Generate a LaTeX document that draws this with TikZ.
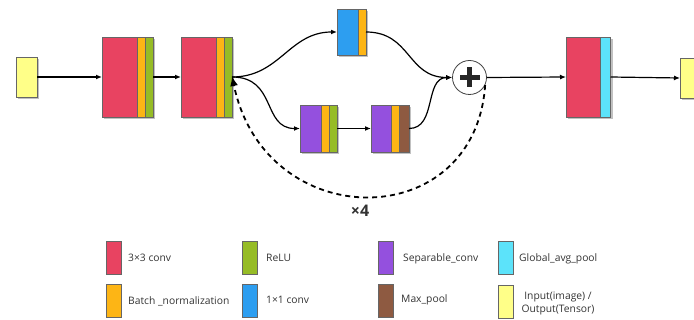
\documentclass[tikz,border=0pt]{standalone}
\usepackage{fontspec}
\setmainfont{Open Sans}
\usetikzlibrary{arrows.meta,shadows}

\definecolor{cconv}{RGB}{232,67,97}
\definecolor{cbn}{RGB}{253,181,21}
\definecolor{crelu}{RGB}{150,188,38}
\definecolor{cone}{RGB}{45,158,240}
\definecolor{csep}{RGB}{148,80,222}
\definecolor{cpool}{RGB}{142,90,65}
\definecolor{cgap}{RGB}{92,227,250}
\definecolor{cio}{RGB}{255,255,136}
\definecolor{ctext}{RGB}{51,51,51}

\tikzset{
  strip/.style={draw=black!60, line width=0.6pt, inner sep=0pt, outer sep=0pt,
    anchor=north west, minimum height=#1},
  sh/.style={drop shadow={shadow xshift=2pt, shadow yshift=-2pt, opacity=0.35, fill=black!70}},
  key/.style={strip=33pt, minimum width=15pt},
  keytext/.style={anchor=west, inner sep=0pt, text=ctext, font=\fontsize{10.3}{13}\selectfont},
  arr/.style={line width=1.2pt, -{Latex[length=6pt,width=5pt]}},
  loop/.style={line width=1.8pt, dash pattern=on 5pt off 4pt, -{Latex[length=10pt,width=8pt]}}
}

\begin{document}
\begin{tikzpicture}[x=1pt,y=-1pt]
\clip (0,0) rectangle (694,320);
\useasboundingbox (0,0) rectangle (694,320);

% input tensor
\node[strip=40pt, sh, fill=cio, minimum width=21pt] (in) at (16,57) {};

% first 3x3 conv + BN + ReLU
\node[strip=80pt, sh, fill=cconv, minimum width=35pt]  (b1c) at (102,37) {};
\node[strip=80pt, sh, fill=cbn,   minimum width=8.5pt] (b1n) at (137,37) {};
\node[strip=80pt, sh, fill=crelu, minimum width=7.5pt] (b1r) at (145.5,37) {};

% second 3x3 conv + BN + ReLU
\node[strip=80pt, sh, fill=cconv, minimum width=35pt]  (b2c) at (181,37) {};
\node[strip=80pt, sh, fill=cbn,   minimum width=8.5pt] (b2n) at (216,37) {};
\node[strip=80pt, sh, fill=crelu, minimum width=7.5pt] (b2r) at (224.5,37) {};

% residual branch: 1x1 conv + BN
\node[strip=46pt, sh, fill=cone, minimum width=21pt] (uc) at (337,9) {};
\node[strip=46pt, sh, fill=cbn,  minimum width=8pt]  (un) at (358,9) {};

% main branch: separable conv + BN + ReLU
\node[strip=47pt, sh, fill=csep,  minimum width=21pt]  (ac) at (300,105) {};
\node[strip=47pt, sh, fill=cbn,   minimum width=8.5pt] (an) at (321,105) {};
\node[strip=47pt, sh, fill=crelu, minimum width=7.5pt] (ar) at (329.5,105) {};

% separable conv + BN + max pool
\node[strip=47pt, sh, fill=csep,  minimum width=20pt]  (pc) at (371,105) {};
\node[strip=47pt, sh, fill=cbn,   minimum width=8.5pt] (pn) at (391,105) {};
\node[strip=47pt, sh, fill=cpool, minimum width=9.5pt] (pm) at (399.5,105) {};

% addition
\node[circle, draw=black!75, line width=0.8pt, fill=white, minimum size=34pt, inner sep=0pt] (sum) at (469.5,77.5) {};
\fill[black!85] ([xshift=-10pt, yshift=-2.6pt]sum.center) rectangle ([xshift=10pt, yshift=2.6pt]sum.center);
\fill[black!85] ([xshift=-2.6pt, yshift=-10pt]sum.center) rectangle ([xshift=2.6pt, yshift=10pt]sum.center);

% final 3x3 conv + global average pooling
\node[strip=80pt, sh, fill=cconv, minimum width=34.5pt] (fc) at (566,37) {};
\node[strip=80pt, sh, fill=cgap,  minimum width=10pt]   (fg) at (600.5,37) {};

% output tensor
\node[strip=40pt, sh, fill=cio, minimum width=21pt] (out) at (680,58) {};

% connectors
\draw[arr] (in.east) -- (b1c.west);
\draw[arr] (b1r.east) -- (b2c.west);
\draw[arr] (b2r.east) .. controls +(48,0) and +(-48,0) .. (uc.west);
\draw[arr] (b2r.east) .. controls +(45,0) and +(-38,0) .. (ac.west);
\draw[arr] (ar.east) -- (pc.west);
\draw[arr] (un.east) .. controls +(45,0) and +(-45,0) .. (sum.west);
\draw[arr] (pm.east) .. controls +(28,0) and +(-28,0) .. (sum.west);
\draw[arr] (sum.east) -- (fc.west);
\draw[arr] (fg.east) -- (out.west);

% repeat loop
\draw[loop] (sum.-26) .. controls (475,235) and (265,235) .. ([yshift=1pt]b2r.east);
\node[text=ctext, font=\fontsize{16}{18}\selectfont\bfseries] (rep) at (360,211) {×4};

% legend
\node[key, fill=cconv] (k1) at (106,241) {};
\node[keytext] (t1) at (128,258) {3×3 conv};
\node[key, fill=cbn] (k2) at (106,284) {};
\node[keytext] (t2) at (128,301) {Batch \_normalization};

\node[key, fill=crelu] (k3) at (242,241) {};
\node[keytext] (t3) at (266,258) {ReLU};
\node[key, fill=cone] (k4) at (242,284) {};
\node[keytext] (t4) at (266,300) {1×1 conv};

\node[key, fill=csep] (k5) at (378,241) {};
\node[keytext] (t5) at (403,259) {Separable\_conv};
\node[key, fill=cpool] (k6) at (378,284) {};
\node[keytext] (t6) at (401,300) {Max\_pool};

\node[key, fill=cgap] (k7) at (498,241) {};
\node[keytext] (t7) at (519,259) {Global\_avg\_pool};
\node[key, fill=cio] (k8) at (498,285) {};
\node[keytext, anchor=center, align=center] (t8) at (558,303) {Input(image) /\\Output(Tensor)};
\end{tikzpicture}
\end{document}
